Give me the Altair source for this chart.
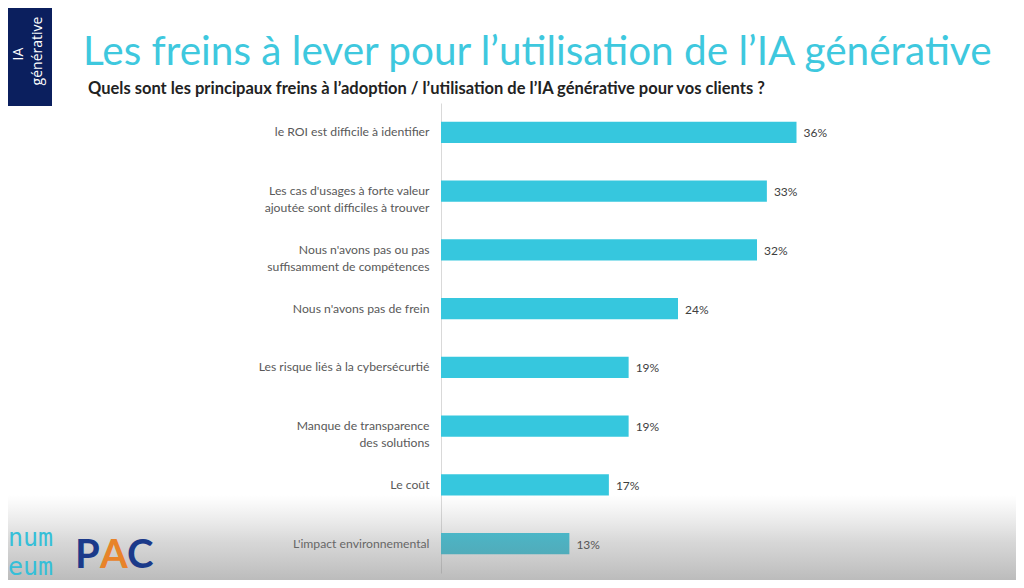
import altair as alt
import pandas as pd

categories = [
    "le ROI est difficile à identifier",
    "Les cas d'usages à forte valeur|ajoutée sont difficiles à trouver",
    "Nous n'avons pas ou pas|suffisamment de compétences",
    "Nous n'avons pas de frein",
    "Les risque liés à la cybersécurtié",
    "Manque de transparence|des solutions",
    "Le coût",
    "L'impact environnemental",
]
values = [36, 33, 32, 24, 19, 19, 17, 13]
value_labels = ["36%", "33%", "32%", "24%", "19%", "19%", "17%", "13%"]

title_text = "Les freins à lever pour l’utilisation de l’IA générative"
subtitle_text = "Quels sont les principaux freins à l’adoption / l’utilisation de l’IA générative pour vos clients ?"

df = pd.DataFrame({"cat": categories, "val": values, "lbl": value_labels})

W, H = 395, 470
x_scale = alt.Scale(domain=[0, 40])
y_scale = alt.Scale(domain=categories, paddingInner=0.64, paddingOuter=0.32)

base = alt.Chart(df)

bars = base.mark_bar(color="#36C7DE").encode(
    x=alt.X("val:Q", scale=x_scale, axis=None),
    y=alt.Y(
        "cat:N",
        scale=y_scale,
        sort=categories,
        title=None,
        axis=alt.Axis(
            labelExpr="split(datum.label, '|')",
            labelFont="Lato",
            labelFontSize=12.2,
            labelColor="#595959",
            labelPadding=12,
            labelLineHeight=17,
            ticks=False,
            domainColor="#d9d9d9",
            domainWidth=1,
            labelLimit=300,
        ),
    ),
)

texts = base.mark_text(
    align="left", baseline="middle", dx=7, dy=1, font="Lato", fontSize=12, color="#404040"
).encode(
    x=alt.X("val:Q", scale=x_scale),
    y=alt.Y("cat:N", scale=y_scale, sort=categories),
    text="lbl:N",
)

ox, oy = 441, 103  # page coords of plot origin

def px(v):
    return alt.value(v - ox)

def py(v):
    return alt.value(v - oy)

deco = alt.Chart(pd.DataFrame({"a": [0]}))

# bottom gray gradient overlay
grad = deco.mark_rect(
    color=alt.Gradient(
        gradient="linear",
        x1=0, y1=0, x2=0, y2=1,
        stops=[
            alt.GradientStop(offset=0, color="rgba(150,150,150,0)"),
            alt.GradientStop(offset=0.5, color="rgba(130,130,130,0.32)"),
            alt.GradientStop(offset=1, color="rgba(110,110,110,0.52)"),
        ],
    )
).encode(x=px(0), x2=px(1024), y=py(495), y2=py(590))

sidebar = deco.mark_rect(color="#0b1f5e").encode(x=px(0), x2=px(52), y=py(0), y2=py(106))
side1 = deco.mark_text(
    text="IA", angle=270, align="center", baseline="middle", font="Open Sans", fontSize=14, color="white"
).encode(x=px(19), y=py(54))
side2 = deco.mark_text(
    text="générative", angle=270, align="center", baseline="middle", font="Open Sans", fontSize=14, color="white"
).encode(x=px(38), y=py(51))

title = deco.mark_text(
    text=title_text, align="left", baseline="alphabetic", font="Lato", fontSize=40.5, color="#3EC8DE"
).encode(x=px(83), y=py(65))
subtitle = deco.mark_text(
    text=subtitle_text, align="left", baseline="alphabetic", font="Lato", fontWeight="bold",
    fontSize=16.5, color="#222222"
).encode(x=px(88), y=py(94))

logo_num = deco.mark_text(
    text="num", align="left", baseline="alphabetic", font="DejaVu Sans Mono", fontSize=25, color="#36BFD8"
).encode(x=px(8), y=py(546))
logo_eum = deco.mark_text(
    text="eum", align="left", baseline="alphabetic", font="DejaVu Sans Mono", fontSize=25, color="#36BFD8"
).encode(x=px(8), y=py(575))
logo_p = deco.mark_text(
    text="P", align="left", baseline="alphabetic", font="Lato", fontWeight="bold", fontSize=40, color="#1B3A8A"
).encode(x=px(75), y=py(568))
logo_a = deco.mark_text(
    text="A", align="left", baseline="alphabetic", font="Lato", fontWeight="bold", fontSize=40, color="#E8832A"
).encode(x=px(100), y=py(568))
logo_c = deco.mark_text(
    text="C", align="left", baseline="alphabetic", font="Lato", fontWeight="bold", fontSize=40, color="#1B3A8A"
).encode(x=px(127), y=py(568))

chart = alt.layer(
    bars, texts, grad, sidebar, side1, side2, title, subtitle, logo_num, logo_eum, logo_p, logo_a, logo_c
).properties(
    width=W,
    height=H,
    autosize=alt.AutoSizeParams(type="none"),
    padding={"left": ox - 8, "top": oy - 8, "right": 1008 - (ox - 8) - W, "bottom": 572 - (oy - 8) - H},
    background="white",
).configure_view(stroke=None)

chart.save("out.html", embed_options={"renderer": "svg", "actions": False})
